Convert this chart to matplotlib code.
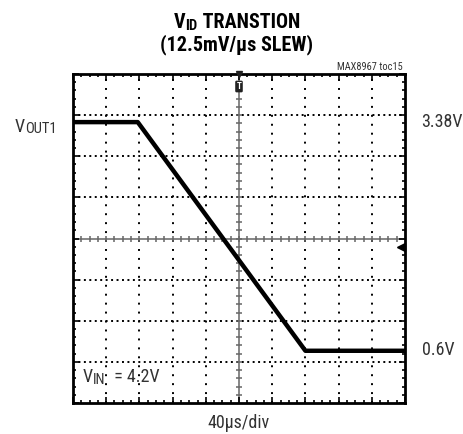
import matplotlib
matplotlib.use('Agg')
import matplotlib.pyplot as plt

plt.rcParams['font.family'] = ['Roboto Condensed', 'Archivo Narrow', 'Liberation Sans', 'DejaVu Sans']

# waveform breakpoints: time (us) and VOUT1 (V)
t_us = [0, 78, 280, 400]
vout = [3.38, 3.38, 0.60, 0.60]

# scope settings
t_per_div = 40
v_per_div = 0.5
v_bottom = -0.035
n_xdiv, n_ydiv = 10, 8
level_labels = ['3.38V', '0.6V']

W, H = 464, 434
fig = plt.figure(figsize=(W / 100, H / 100), dpi=100)
ax = fig.add_axes([73 / W, 1 - 403 / H, 332 / W, 329 / H])

xmax = t_per_div * n_xdiv
ytop = v_bottom + v_per_div * n_ydiv
ax.set_xlim(0, xmax)
ax.set_ylim(v_bottom, ytop)
xc = xmax / 2
yc = v_bottom + v_per_div * n_ydiv / 2

# dotted grid
for k in range(1, n_xdiv):
    if k != n_xdiv // 2:
        ax.axvline(k * t_per_div, color='k', lw=1.4, ls=(0, (1, 3.6)), zorder=1)
for k in range(1, n_ydiv):
    if k != n_ydiv // 2:
        ax.axhline(v_bottom + k * v_per_div, color='k', lw=1.4, ls=(0, (1, 1.8)), zorder=1)

# center crosshair with minor ticks
ax.axvline(xc, color='#666666', lw=1.1, zorder=1)
ax.axhline(yc, color='#666666', lw=1.1, zorder=1)
mx = [i * t_per_div / 4 for i in range(1, n_xdiv * 4)]
my = [v_bottom + i * v_per_div / 5 for i in range(1, n_ydiv * 5)]
ax.plot(mx, [yc] * len(mx), ls='none', marker='|', ms=5, mew=1.1, color='#666666', zorder=1)
ax.plot([xc] * len(my), my, ls='none', marker='_', ms=5, mew=1.1, color='#666666', zorder=1)

# frame ticks
ax.set_xticks([k * t_per_div for k in range(n_xdiv + 1)])
ax.set_xticks(mx, minor=True)
ax.set_yticks([v_bottom + k * v_per_div for k in range(n_ydiv + 1)])
ax.set_yticks(my, minor=True)
ax.tick_params(which='both', direction='in', top=True, right=True,
               labelbottom=False, labelleft=False, color='k')
ax.tick_params(which='major', length=4, width=1.2)
ax.tick_params(which='minor', length=2.5, width=1.2)
for s in ax.spines.values():
    s.set_linewidth(2.0)

# trace
ax.plot(t_us, vout, color='black', lw=3.2, solid_joinstyle='round', zorder=3)

# trigger markers
ax.plot([xc], [ytop], marker='v', ms=4, color='#222222', clip_on=False, zorder=5)
ax.annotate('T', xy=(xc, ytop), xytext=(0, -9), textcoords='offset points',
            ha='center', va='center', fontsize=6.5, fontweight='bold', color='white',
            bbox=dict(boxstyle='round,pad=0.15', fc='#222222', ec='none'), zorder=5)
ax.plot([xmax - 5], [yc - 0.195 * v_per_div], marker='<', ms=6, color='black',
        clip_on=False, zorder=5)

renderer = fig.canvas.get_renderer()


def px(x, y):
    return x / W, 1 - y / H


def sub_text(x, y, main, sub, rest='', size=13.5, sub_size=11, drop=1.5, **kw):
    t1 = fig.text(*px(x, y), main, fontsize=size, va='baseline', ha='left', **kw)
    e = t1.get_window_extent(renderer)
    t2 = fig.text(e.x1 / W, (H - y - drop) / H, sub, fontsize=sub_size, va='baseline', ha='left', **kw)
    if rest:
        e2 = t2.get_window_extent(renderer)
        fig.text(e2.x1 / W, (H - y) / H, rest, fontsize=size, va='baseline', ha='left', **kw)


def text_width(s, size, **kw):
    t = fig.text(0, 0, s, fontsize=size, **kw)
    w = t.get_window_extent(renderer).width
    t.remove()
    return w


gray = '#333333'

# title
title_kw = dict(fontweight='bold', color='black')
wt = (text_width('V', 14.5, **title_kw) + text_width('ID', 10.5, **title_kw)
      + text_width(' TRANSTION', 14.5, **title_kw))
sub_text(237 - wt / 2, 28, 'V', 'ID', ' TRANSTION', size=14.5, sub_size=10.5, drop=1.5, **title_kw)
fig.text(*px(237, 50), '(12.5mV/µs SLEW)', fontsize=14.5, ha='center', va='baseline', **title_kw)

fig.text(*px(403, 70), 'MAX8967 toc15', fontsize=7.5, ha='right', va='baseline', color=gray)

# channel and level labels
sub_text(15, 132, 'V', 'OUT1', size=13, sub_size=10.5, drop=1, color=gray)
fig.text(*px(421, 127), level_labels[0], fontsize=13, ha='left', va='baseline', color=gray)
fig.text(*px(422, 355), level_labels[1], fontsize=13, ha='left', va='baseline', color=gray)
sub_text(83, 382, 'V', 'IN', '  = 4.2V', size=13, sub_size=10.5, drop=1.5, color=gray)
fig.text(*px(239, 428), '40µs/div', fontsize=13, ha='center', va='baseline', color=gray)

fig.savefig('out.png', dpi=100)
